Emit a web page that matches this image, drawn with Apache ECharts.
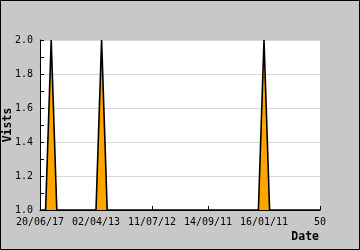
<!DOCTYPE html>
<html><head><meta charset="utf-8">
<script src="https://cdn.jsdelivr.net/npm/echarts@6/dist/echarts.min.js"></script>
<style>html,body{margin:0;padding:0;background:#c8c8c8}#c{width:360px;height:250px}</style>
</head><body><div id="c"></div>
<script>
const tickLabels = ['20/06/17','02/04/13','11/07/12','14/09/11','16/01/11','50'];
const visits = [1,1,2,1,1,1,1,1,1,1,
                1,2,1,1,1,1,1,1,1,1,
                1,1,1,1,1,1,1,1,1,1,
                1,1,1,1,1,1,1,1,1,1,
                2,1,1,1,1,1,1,1,1,1,
                1];
const xTitle = 'Date';
const yTitle = 'Vists';

const chart = echarts.init(document.getElementById('c'), null, {renderer:'canvas'});
const mono = '"DejaVu Sans Mono", monospace';
chart.setOption({
  animation:false,
  backgroundColor:'#c8c8c8',
  grid:{left:40,right:40,top:40,bottom:40,show:true,backgroundColor:'#fff',borderWidth:0},
  xAxis:{type:'value',min:0,max:50,interval:10,
    axisLine:{lineStyle:{color:'#000',width:1}},
    axisTick:{inside:true,length:4,lineStyle:{color:'#000'}},
    splitLine:{show:false},
    axisLabel:{color:'#000',fontFamily:mono,fontSize:10,margin:7,
      formatter:v=>tickLabels[Math.round(v/10)]}},
  yAxis:{type:'value',min:1,max:2,interval:0.2,
    axisLine:{show:true,lineStyle:{color:'#000',width:1}},
    axisTick:{show:true,inside:true,length:4,lineStyle:{color:'#000'}},
    minorTick:{show:true,splitNumber:2,length:4,lineStyle:{color:'#000'}},
    splitLine:{show:true,lineStyle:{color:'#d8d8d8',width:1}},
    axisLabel:{color:'#000',fontFamily:mono,fontSize:10,margin:7,formatter:v=>v.toFixed(1)}},
  series:[{type:'line',data:visits.map((v,i)=>[i,v]),symbol:'none',
    lineStyle:{color:'#000',width:1.6},
    areaStyle:{color:'#ffa500',opacity:1,origin:'start'}}],
  graphic:[
    {type:'rect',shape:{x:0.5,y:0.5,width:359,height:249},style:{fill:null,stroke:'#000',lineWidth:1},z:100},
    {type:'text',x:319,y:237,style:{text:xTitle,font:'bold 11.5px '+mono,fill:'#000',textAlign:'right',textVerticalAlign:'middle'}},
    {type:'text',x:8,y:125,rotation:Math.PI/2,style:{text:yTitle,font:'bold 11.5px '+mono,fill:'#000',textAlign:'center',textVerticalAlign:'middle'}}
  ]
});
</script></body></html>
